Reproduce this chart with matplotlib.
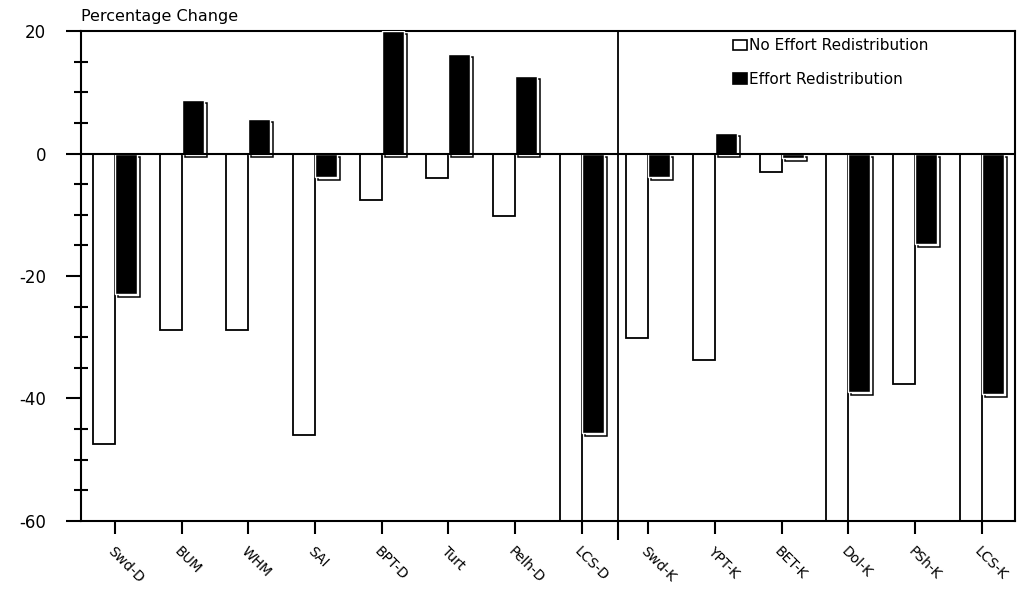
import numpy as np
import matplotlib
matplotlib.use("Agg")
from matplotlib import pyplot as plt
from matplotlib.patches import Patch
from matplotlib.transforms import offset_copy

plt.rcParams['axes.unicode_minus'] = False

categories = ['Swd-D', 'BUM', 'WHM', 'SAI', 'BPT-D', 'Turt', 'Pelh-D', 'LCS-D',
              'Swd-K', 'YPT-K', 'BET-K', 'Dol-K', 'PSh-K', 'LCS-K']
no_redist = [-47.5, -28.8, -28.8, -46.0, -7.6, -4.0, -10.2, -60.0,
             -30.1, -33.7, -3.0, -60.0, -37.6, -60.0]
redist = [-23.0, 8.7, 5.6, -3.8, 20.0, 16.3, 12.7, -45.6,
          -3.8, 3.3, -0.8, -39.0, -14.8, -39.3]
labels = ['No Effort Redistribution', 'Effort Redistribution']
n_left = 8  # first block (-D group) before the divider


def plot_change():
    fig = plt.figure(figsize=(10.2, 5.94), dpi=100)
    ax = fig.add_axes([0.0794, 0.1229, 0.9156, 0.8249])
    x = np.arange(len(categories))
    w = 0.33

    ax.bar(x - w / 2, no_redist, w, color='white', edgecolor='black',
           linewidth=1.3, zorder=2)
    # offset outline behind the black bars (drop-shadow look)
    shadow = offset_copy(ax.transData, fig=fig, x=3, y=-3, units='dots')
    ax.bar(x + w / 2, redist, w, color='none', edgecolor='black',
           linewidth=1.1, zorder=2, transform=shadow)
    ax.bar(x + w / 2, redist, w, color='black', edgecolor='white',
           linewidth=1.0, zorder=3)

    ax.axhline(0, color='black', linewidth=1.5, zorder=4)
    ax.axvline(n_left - 0.45, color='black', linewidth=1.3, zorder=4)

    ax.set_xlim(-0.51, len(categories) - 0.5)
    ax.set_ylim(-60, 20)
    ax.set_yticks([-60, -40, -20, 0, 20])
    ax.set_yticks(np.arange(-55, 20, 5), minor=True)
    ax.tick_params(axis='y', which='major', direction='out', length=11,
                   width=1.5, pad=14, labelsize=12)
    ax.tick_params(axis='y', which='minor', direction='inout', length=10,
                   width=1.5)
    ax.set_xticks(x)
    ax.set_xticklabels(categories, rotation=-45, ha='left', va='top',
                       rotation_mode='anchor', fontsize=10)
    ax.set_xticks([n_left - 0.45], minor=True)
    ax.tick_params(axis='x', which='major', direction='out', length=9.5,
                   width=1.5, pad=7)
    ax.tick_params(axis='x', which='minor', direction='out', length=14,
                   width=1.5)
    for s in ax.spines.values():
        s.set_linewidth(1.5)

    fig.text(81 / 1020, 1 - 21 / 594, 'Percentage Change', fontsize=11.5,
             va='baseline', ha='left')

    handles = [Patch(facecolor='white', edgecolor='black', linewidth=1.2),
               Patch(facecolor='black', edgecolor='black', linewidth=1.2)]
    ax.legend(handles, labels, loc='upper left', bbox_to_anchor=(0.698, 0.985),
              frameon=False, fontsize=11, borderpad=0, borderaxespad=0,
              handlelength=0.9, handleheight=0.7, handletextpad=0.15,
              labelspacing=1.2)
    return fig


if __name__ == '__main__':
    fig = plot_change()
    plt.savefig('out.png', dpi=100)
